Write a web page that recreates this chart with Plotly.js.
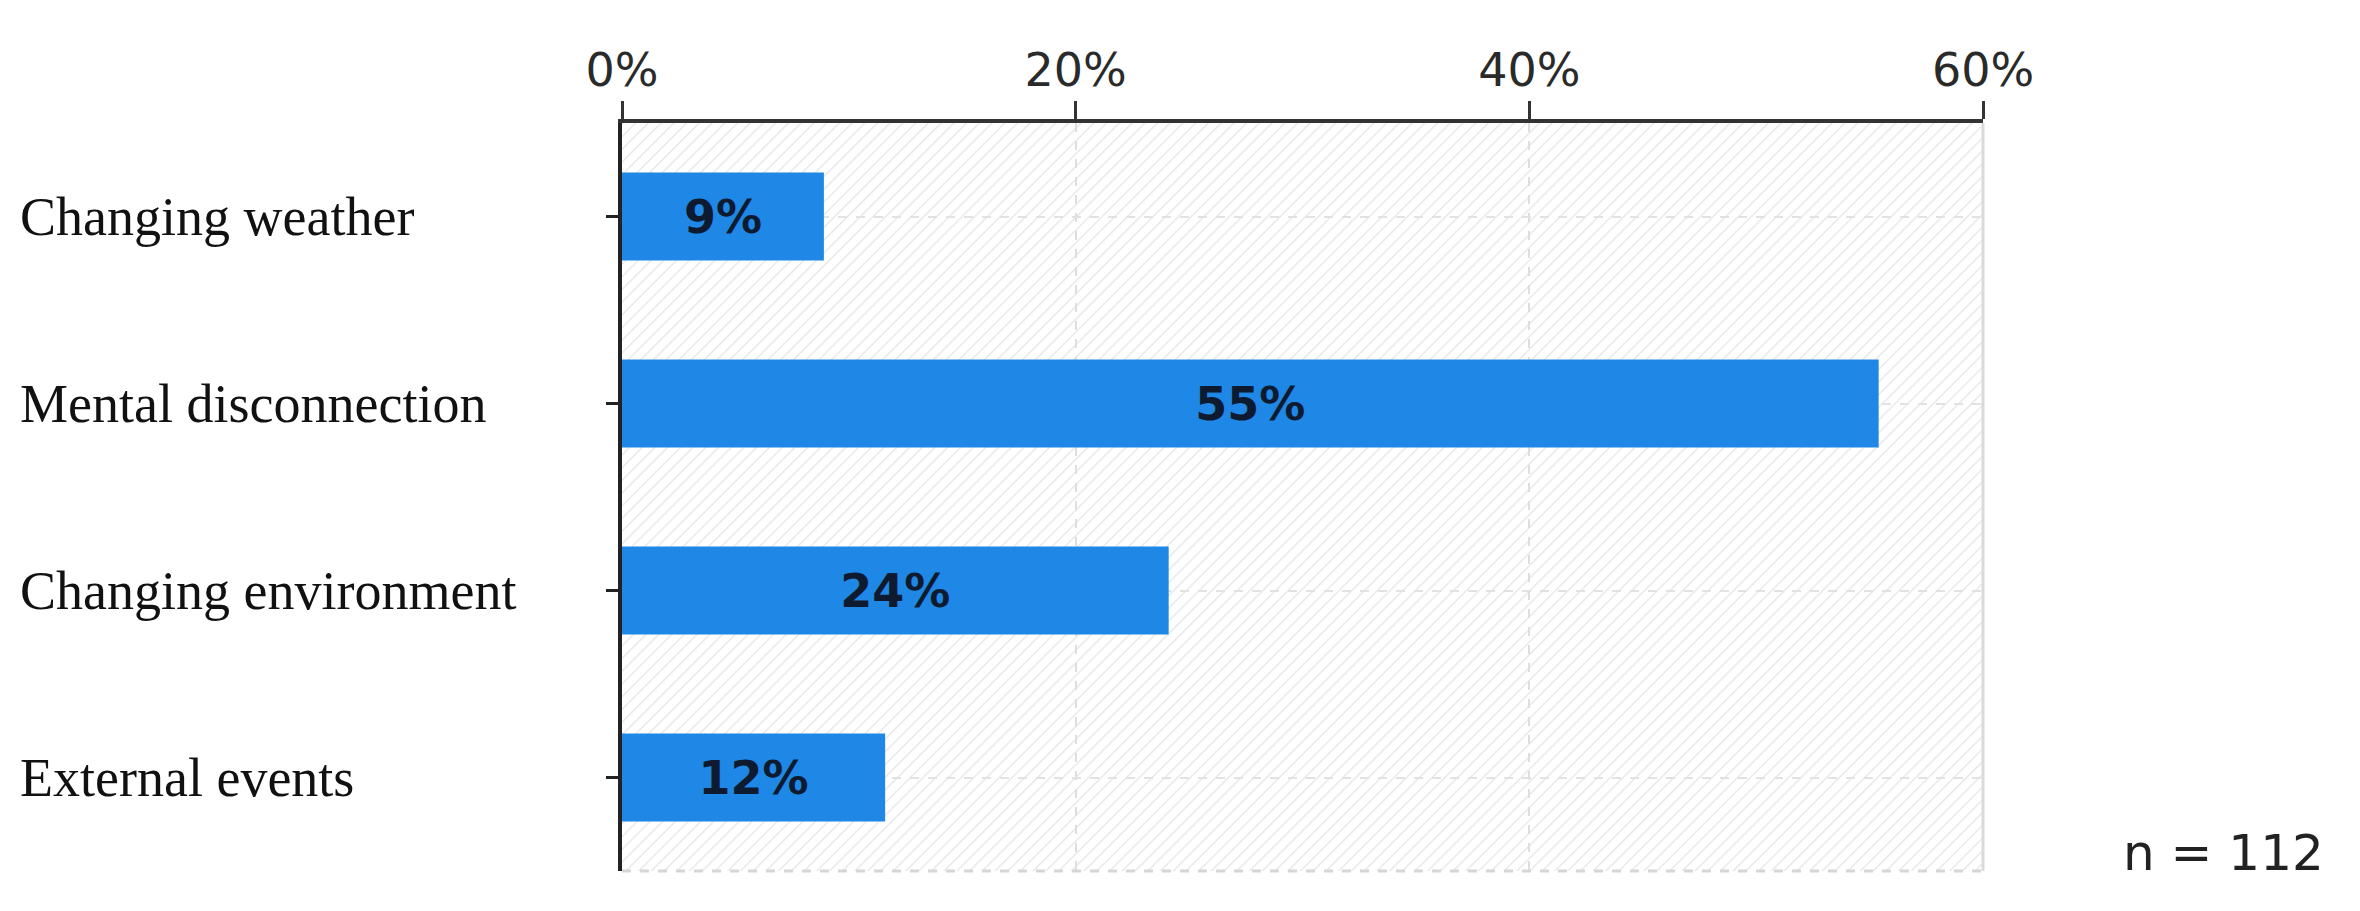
<!DOCTYPE html>
<html>
<head>
<meta charset="utf-8">
<script src="https://cdn.plot.ly/plotly-3.0.1.min.js"></script>
<style>
  html, body { margin: 0; padding: 0; background: #fff; }
  #plot { width: 2360px; height: 911px; }
</style>
</head>
<body>
<div id="plot"></div>
<script>
// Categories, top to bottom
const categories = ['Changing weather', 'Mental disconnection', 'Changing environment', 'External events'];
// Share of respondents (%), n = 112
const shares = [8.9, 55.4, 24.1, 11.6];
const xTicks = [0, 20, 40, 60];
const xTickText = ['0%', '20%', '40%', '60%'];
const sampleNote = 'n = 112';

// Page geometry (pixels)
const W = 2360, H = 911;
const margin = { l: 622, r: 377, t: 123, b: 40 };
const plotW = W - margin.l - margin.r;
const plotH = H - margin.t - margin.b;

// Light diagonal hatch behind the plot area
const hatchSvg = `<svg xmlns="http://www.w3.org/2000/svg" width="${plotW}" height="${plotH}">
<defs><pattern id="h" width="9" height="9" patternUnits="userSpaceOnUse" patternTransform="rotate(45)">
<line x1="0" y1="0" x2="0" y2="9" stroke="#e4e4e4" stroke-width="2.5"/></pattern></defs>
<rect width="100%" height="100%" fill="url(#h)"/></svg>`;

const bars = {
    type: 'bar',
    orientation: 'h',
    y: categories,
    x: shares,
    width: 0.47,
    marker: { color: '#1f87e5' },
    text: shares.map(v => Math.round(v) + '%'),
    textposition: 'inside',
    insidetextanchor: 'middle',
    constraintext: 'none',
    textfont: { family: 'DejaVu Sans', size: 46, color: '#0d1a30', weight: 'bold' },
    hoverinfo: 'none'
};

// Category labels, left aligned at the page edge
const labelX = (18 - margin.l) / plotW;
const annotations = categories.map(c => ({
    text: c,
    xref: 'paper', yref: 'y',
    x: labelX, y: c,
    xanchor: 'left', yanchor: 'middle',
    showarrow: false,
    font: { family: 'Liberation Serif', size: 54, color: '#111' }
}));

annotations.push({
    text: sampleNote,
    xref: 'paper', yref: 'paper',
    x: (2326 - margin.l) / plotW, y: (H - margin.b - 853) / plotH,
    xanchor: 'right', yanchor: 'middle',
    showarrow: false,
    font: { family: 'DejaVu Sans', size: 50, color: '#222' }
});

const layout = {
    width: W,
    height: H,
    margin: margin,
    paper_bgcolor: '#fff',
    plot_bgcolor: 'rgba(0,0,0,0)',
    showlegend: false,
    xaxis: {
        side: 'top',
        range: [0, 60],
        tickmode: 'array',
        tickvals: xTicks,
        ticktext: xTickText,
        tickfont: { family: 'DejaVu Sans', size: 46, color: '#2a2a2a' },
        ticks: 'outside',
        ticklen: 18,
        tickwidth: 3,
        tickcolor: '#333',
        ticklabelstandoff: -3,
        showline: true,
        linecolor: '#333',
        linewidth: 4,
        showgrid: true,
        gridcolor: '#dedede',
        griddash: 'dash',
        gridwidth: 2,
        zeroline: false,
        fixedrange: true
    },
    yaxis: {
        type: 'category',
        categoryorder: 'array',
        categoryarray: categories,
        range: [3.5, -0.5],
        showticklabels: false,
        ticks: 'outside',
        ticklen: 12,
        tickwidth: 3,
        tickcolor: '#222',
        showline: true,
        linecolor: '#222',
        linewidth: 4,
        showgrid: true,
        gridcolor: '#e2e2e2',
        griddash: 'dash',
        gridwidth: 2,
        zeroline: false,
        fixedrange: true
    },
    images: [{
        source: 'data:image/svg+xml;charset=utf-8,' + encodeURIComponent(hatchSvg),
        xref: 'paper', yref: 'paper',
        x: 0, y: 1, sizex: 1, sizey: 1,
        xanchor: 'left', yanchor: 'top',
        sizing: 'stretch',
        layer: 'below'
    }],
    shapes: [
        // right frame edge
        { type: 'line', xref: 'paper', yref: 'paper', x0: 1, x1: 1, y0: 0, y1: 1,
          line: { color: '#dadada', width: 3 } },
        // bottom frame edge
        { type: 'line', xref: 'paper', yref: 'paper', x0: 0, x1: 1, y0: 0, y1: 0,
          line: { color: '#d6d6d6', width: 3, dash: 'dash' } }
    ],
    annotations: annotations
};

Plotly.newPlot('plot', [bars], layout, { displayModeBar: false, staticPlot: true });
</script>
</body>
</html>
